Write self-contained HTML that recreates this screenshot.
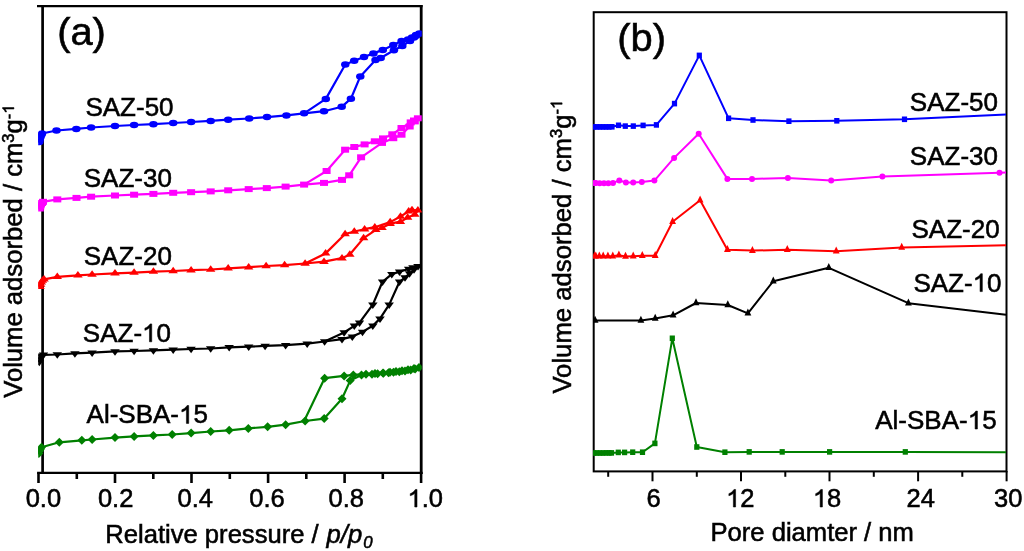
<!DOCTYPE html><html><head><meta charset="utf-8"><style>html,body{margin:0;padding:0;background:#fff;overflow:hidden}svg{display:block;filter:blur(0.3px)} text{stroke:#000;stroke-width:0.55px}.o{fill:none;stroke:none}</style></head><body>
<svg width="1024" height="551" viewBox="0 0 1024 551" font-family="Liberation Sans, sans-serif">
<rect width="1024" height="551" fill="#fff"/>
<defs><clipPath id="ca"><rect x="38.2" y="0" width="383.6" height="480"/></clipPath><clipPath id="cb"><rect x="593" y="0" width="413.6" height="480"/></clipPath></defs>
<g stroke="#000" fill="none">
<path stroke-width="2.3" d="M37,6.05 H422.6"/>
<path stroke-width="2.2" d="M37.1,472.8 H422.6"/>
<path stroke-width="2.7" d="M42.6,4.9 V473.9"/>
<path stroke-width="2.8" d="M421.2,4.9 V473.9"/>
</g>
<g clip-path="url(#ca)">
<g fill="none" stroke="#0000ff" stroke-width="2.2" stroke-linejoin="round">
<polyline points="39.3,142.0 39.8,139.5 40.5,137.0 41.3,135.0 42.0,133.5 56.5,130.5 76.3,128.9 91.1,127.5 115.0,126.0 134.1,125.0 153.4,124.2 173.2,123.0 191.1,122.0 210.7,120.9 228.2,119.7 249.2,118.5 267.0,117.1 286.4,115.4 304.1,113.3 324.0,111.2 341.7,106.8 350.9,98.7 360.3,76.4 375.5,60.1 380.7,58.0 393.9,50.3 402.3,46.1 410.0,40.9 414.0,37.5 416.2,35.7 419.4,33.6"/>
<polyline points="419.4,33.6 416.0,35.0 412.0,37.5 408.0,39.5 401.6,40.9 393.3,45.0 382.8,49.9 373.4,53.4 364.0,57.0 354.2,60.7 345.3,64.5 325.8,98.9 304.1,113.3"/>
</g>
<g fill="#0000ff">
<ellipse cx="39.3" cy="142.0" rx="4.25" ry="3.25"/>
<ellipse cx="39.8" cy="139.5" rx="4.25" ry="3.25"/>
<ellipse cx="40.5" cy="137.0" rx="4.25" ry="3.25"/>
<ellipse cx="41.3" cy="135.0" rx="4.25" ry="3.25"/>
<ellipse cx="42.0" cy="133.5" rx="4.25" ry="3.25"/>
<ellipse cx="56.5" cy="130.5" rx="4.25" ry="3.25"/>
<ellipse cx="76.3" cy="128.9" rx="4.25" ry="3.25"/>
<ellipse cx="91.1" cy="127.5" rx="4.25" ry="3.25"/>
<ellipse cx="115.0" cy="126.0" rx="4.25" ry="3.25"/>
<ellipse cx="134.1" cy="125.0" rx="4.25" ry="3.25"/>
<ellipse cx="153.4" cy="124.2" rx="4.25" ry="3.25"/>
<ellipse cx="173.2" cy="123.0" rx="4.25" ry="3.25"/>
<ellipse cx="191.1" cy="122.0" rx="4.25" ry="3.25"/>
<ellipse cx="210.7" cy="120.9" rx="4.25" ry="3.25"/>
<ellipse cx="228.2" cy="119.7" rx="4.25" ry="3.25"/>
<ellipse cx="249.2" cy="118.5" rx="4.25" ry="3.25"/>
<ellipse cx="267.0" cy="117.1" rx="4.25" ry="3.25"/>
<ellipse cx="286.4" cy="115.4" rx="4.25" ry="3.25"/>
<ellipse cx="304.1" cy="113.3" rx="4.25" ry="3.25"/>
<ellipse cx="324.0" cy="111.2" rx="4.25" ry="3.25"/>
<ellipse cx="341.7" cy="106.8" rx="4.25" ry="3.25"/>
<ellipse cx="350.9" cy="98.7" rx="4.25" ry="3.25"/>
<ellipse cx="360.3" cy="76.4" rx="4.25" ry="3.25"/>
<ellipse cx="375.5" cy="60.1" rx="4.25" ry="3.25"/>
<ellipse cx="380.7" cy="58.0" rx="4.25" ry="3.25"/>
<ellipse cx="393.9" cy="50.3" rx="4.25" ry="3.25"/>
<ellipse cx="402.3" cy="46.1" rx="4.25" ry="3.25"/>
<ellipse cx="410.0" cy="40.9" rx="4.25" ry="3.25"/>
<ellipse cx="414.0" cy="37.5" rx="4.25" ry="3.25"/>
<ellipse cx="416.2" cy="35.7" rx="4.25" ry="3.25"/>
<ellipse cx="419.4" cy="33.6" rx="4.25" ry="3.25"/>
<ellipse cx="416.0" cy="35.0" rx="4.25" ry="3.25"/>
<ellipse cx="412.0" cy="37.5" rx="4.25" ry="3.25"/>
<ellipse cx="408.0" cy="39.5" rx="4.25" ry="3.25"/>
<ellipse cx="401.6" cy="40.9" rx="4.25" ry="3.25"/>
<ellipse cx="393.3" cy="45.0" rx="4.25" ry="3.25"/>
<ellipse cx="382.8" cy="49.9" rx="4.25" ry="3.25"/>
<ellipse cx="373.4" cy="53.4" rx="4.25" ry="3.25"/>
<ellipse cx="364.0" cy="57.0" rx="4.25" ry="3.25"/>
<ellipse cx="354.2" cy="60.7" rx="4.25" ry="3.25"/>
<ellipse cx="345.3" cy="64.5" rx="4.25" ry="3.25"/>
<ellipse cx="325.8" cy="98.9" rx="4.25" ry="3.25"/>
</g>
<g fill="none" stroke="#ff00ff" stroke-width="2.2" stroke-linejoin="round">
<polyline points="39.8,208.5 40.3,206.5 41.0,204.5 42.0,203.0 43.0,201.8 57.3,199.4 76.5,197.9 91.1,196.7 115.0,195.5 134.1,194.7 153.4,193.9 173.2,192.8 191.1,192.2 210.7,191.4 228.2,190.3 248.7,189.1 266.8,188.1 285.6,186.6 304.1,184.6 324.0,182.9 342.0,179.9 349.2,175.3 361.1,157.3 382.0,142.9 393.3,138.2 401.5,134.7 409.7,126.5 414.8,121.4 417.9,118.3"/>
<polyline points="417.9,118.3 414.0,120.5 410.7,122.4 401.5,128.0 392.3,134.3 383.0,138.4 374.8,141.3 364.6,144.4 354.3,147.0 345.1,149.7 326.6,171.0 304.1,184.6"/>
</g>
<g fill="#ff00ff">
<rect x="35.8" y="205.5" width="8" height="6"/>
<rect x="36.3" y="203.5" width="8" height="6"/>
<rect x="37.0" y="201.5" width="8" height="6"/>
<rect x="38.0" y="200.0" width="8" height="6"/>
<rect x="39.0" y="198.8" width="8" height="6"/>
<rect x="53.3" y="196.4" width="8" height="6"/>
<rect x="72.5" y="194.9" width="8" height="6"/>
<rect x="87.1" y="193.7" width="8" height="6"/>
<rect x="111.0" y="192.5" width="8" height="6"/>
<rect x="130.1" y="191.7" width="8" height="6"/>
<rect x="149.4" y="190.9" width="8" height="6"/>
<rect x="169.2" y="189.8" width="8" height="6"/>
<rect x="187.1" y="189.2" width="8" height="6"/>
<rect x="206.7" y="188.4" width="8" height="6"/>
<rect x="224.2" y="187.3" width="8" height="6"/>
<rect x="244.7" y="186.1" width="8" height="6"/>
<rect x="262.8" y="185.1" width="8" height="6"/>
<rect x="281.6" y="183.6" width="8" height="6"/>
<rect x="300.1" y="181.6" width="8" height="6"/>
<rect x="320.0" y="179.9" width="8" height="6"/>
<rect x="338.0" y="176.9" width="8" height="6"/>
<rect x="345.2" y="172.3" width="8" height="6"/>
<rect x="357.1" y="154.3" width="8" height="6"/>
<rect x="378.0" y="139.9" width="8" height="6"/>
<rect x="389.3" y="135.2" width="8" height="6"/>
<rect x="397.5" y="131.7" width="8" height="6"/>
<rect x="405.7" y="123.5" width="8" height="6"/>
<rect x="410.8" y="118.4" width="8" height="6"/>
<rect x="413.9" y="115.3" width="8" height="6"/>
<rect x="410.0" y="117.5" width="8" height="6"/>
<rect x="406.7" y="119.4" width="8" height="6"/>
<rect x="397.5" y="125.0" width="8" height="6"/>
<rect x="388.3" y="131.3" width="8" height="6"/>
<rect x="379.0" y="135.4" width="8" height="6"/>
<rect x="370.8" y="138.3" width="8" height="6"/>
<rect x="360.6" y="141.4" width="8" height="6"/>
<rect x="350.3" y="144.0" width="8" height="6"/>
<rect x="341.1" y="146.7" width="8" height="6"/>
<rect x="322.6" y="168.0" width="8" height="6"/>
</g>
<g fill="none" stroke="#ff0000" stroke-width="2.2" stroke-linejoin="round">
<polyline points="40.0,286.7 40.6,284.5 41.4,282.3 42.5,280.5 44.0,279.4 57.3,276.9 77.9,275.3 92.1,274.5 115.0,273.4 134.1,272.6 153.4,271.6 173.2,271.0 191.1,270.2 210.7,269.5 228.2,268.4 248.7,267.2 266.1,266.0 284.6,265.1 305.1,263.5 324.0,261.7 342.0,258.2 349.8,254.5 363.6,238.1 375.9,229.9 382.0,227.8 390.2,223.7 400.5,221.7 407.7,217.6 414.8,214.5 417.9,210.4"/>
<polyline points="417.9,210.4 412.0,210.0 408.7,211.4 400.5,216.5 390.2,222.1 374.8,227.2 364.6,229.2 354.3,231.5 345.1,234.0 325.6,253.4 305.1,263.5"/>
</g>
<g fill="#ff0000">
<polygon points="40.0,282.4 35.2,288.9 44.8,288.9"/>
<polygon points="40.6,280.2 35.9,286.7 45.4,286.7"/>
<polygon points="41.4,278.0 36.6,284.5 46.1,284.5"/>
<polygon points="42.5,276.2 37.8,282.7 47.2,282.7"/>
<polygon points="44.0,275.1 39.2,281.6 48.8,281.6"/>
<polygon points="57.3,272.6 52.5,279.1 62.0,279.1"/>
<polygon points="77.9,271.0 73.2,277.5 82.7,277.5"/>
<polygon points="92.1,270.2 87.3,276.7 96.8,276.7"/>
<polygon points="115.0,269.1 110.2,275.6 119.8,275.6"/>
<polygon points="134.1,268.3 129.3,274.8 138.8,274.8"/>
<polygon points="153.4,267.3 148.7,273.8 158.2,273.8"/>
<polygon points="173.2,266.7 168.4,273.2 177.9,273.2"/>
<polygon points="191.1,265.9 186.3,272.4 195.8,272.4"/>
<polygon points="210.7,265.2 205.9,271.7 215.4,271.7"/>
<polygon points="228.2,264.1 223.4,270.6 232.9,270.6"/>
<polygon points="248.7,262.9 243.9,269.4 253.4,269.4"/>
<polygon points="266.1,261.7 261.4,268.2 270.9,268.2"/>
<polygon points="284.6,260.8 279.9,267.3 289.4,267.3"/>
<polygon points="305.1,259.2 300.4,265.7 309.9,265.7"/>
<polygon points="324.0,257.4 319.2,263.9 328.8,263.9"/>
<polygon points="342.0,253.9 337.2,260.4 346.8,260.4"/>
<polygon points="349.8,250.2 345.1,256.7 354.6,256.7"/>
<polygon points="363.6,233.8 358.9,240.3 368.4,240.3"/>
<polygon points="375.9,225.6 371.1,232.1 380.6,232.1"/>
<polygon points="382.0,223.5 377.2,230.0 386.8,230.0"/>
<polygon points="390.2,219.4 385.4,225.9 394.9,225.9"/>
<polygon points="400.5,217.4 395.8,223.9 405.2,223.9"/>
<polygon points="407.7,213.3 402.9,219.8 412.4,219.8"/>
<polygon points="414.8,210.2 410.1,216.7 419.6,216.7"/>
<polygon points="417.9,206.1 413.1,212.6 422.6,212.6"/>
<polygon points="412.0,205.7 407.2,212.2 416.8,212.2"/>
<polygon points="408.7,207.1 403.9,213.6 413.4,213.6"/>
<polygon points="400.5,212.2 395.8,218.7 405.2,218.7"/>
<polygon points="390.2,217.8 385.4,224.3 394.9,224.3"/>
<polygon points="374.8,222.9 370.1,229.4 379.6,229.4"/>
<polygon points="364.6,224.9 359.9,231.4 369.4,231.4"/>
<polygon points="354.3,227.2 349.6,233.7 359.1,233.7"/>
<polygon points="345.1,229.7 340.4,236.2 349.9,236.2"/>
<polygon points="325.6,249.1 320.9,255.6 330.4,255.6"/>
</g>
<g fill="none" stroke="#000000" stroke-width="2.2" stroke-linejoin="round">
<polyline points="39.3,362.0 39.8,359.5 40.5,357.3 41.7,355.7 43.5,354.8 57.3,354.5 74.9,353.4 92.1,352.6 115.0,351.4 134.1,351.0 153.4,350.4 173.2,349.6 191.1,349.0 210.7,348.5 229.2,347.3 248.7,346.7 265.1,345.9 285.6,345.2 307.2,343.6 324.6,341.5 342.0,339.1 352.3,336.6 362.5,331.9 372.8,325.8 380.0,318.6 389.2,304.6 399.5,281.8 405.0,277.5 409.5,273.5 414.0,269.5 418.0,266.3"/>
<polyline points="418.0,266.3 413.0,267.5 408.7,269.0 399.5,271.6 391.8,274.2 382.5,281.8 372.8,304.6 359.5,322.7 354.3,325.8 344.1,332.5 324.6,341.5"/>
</g>
<g fill="#000000">
<polygon points="39.3,366.3 34.5,359.8 44.0,359.8"/>
<polygon points="39.8,363.8 35.0,357.3 44.5,357.3"/>
<polygon points="40.5,361.6 35.8,355.1 45.2,355.1"/>
<polygon points="41.7,360.0 37.0,353.5 46.5,353.5"/>
<polygon points="43.5,359.1 38.8,352.6 48.2,352.6"/>
<polygon points="57.3,358.8 52.5,352.3 62.0,352.3"/>
<polygon points="74.9,357.7 70.2,351.2 79.7,351.2"/>
<polygon points="92.1,356.9 87.3,350.4 96.8,350.4"/>
<polygon points="115.0,355.7 110.2,349.2 119.8,349.2"/>
<polygon points="134.1,355.3 129.3,348.8 138.8,348.8"/>
<polygon points="153.4,354.7 148.7,348.2 158.2,348.2"/>
<polygon points="173.2,353.9 168.4,347.4 177.9,347.4"/>
<polygon points="191.1,353.3 186.3,346.8 195.8,346.8"/>
<polygon points="210.7,352.8 205.9,346.3 215.4,346.3"/>
<polygon points="229.2,351.6 224.4,345.1 233.9,345.1"/>
<polygon points="248.7,351.0 243.9,344.5 253.4,344.5"/>
<polygon points="265.1,350.2 260.4,343.7 269.9,343.7"/>
<polygon points="285.6,349.5 280.9,343.0 290.4,343.0"/>
<polygon points="307.2,347.9 302.4,341.4 311.9,341.4"/>
<polygon points="324.6,345.8 319.9,339.3 329.4,339.3"/>
<polygon points="342.0,343.4 337.2,336.9 346.8,336.9"/>
<polygon points="352.3,340.9 347.6,334.4 357.1,334.4"/>
<polygon points="362.5,336.2 357.8,329.7 367.2,329.7"/>
<polygon points="372.8,330.1 368.1,323.6 377.6,323.6"/>
<polygon points="380.0,322.9 375.2,316.4 384.8,316.4"/>
<polygon points="389.2,308.9 384.4,302.4 393.9,302.4"/>
<polygon points="399.5,286.1 394.8,279.6 404.2,279.6"/>
<polygon points="405.0,281.8 400.2,275.3 409.8,275.3"/>
<polygon points="409.5,277.8 404.8,271.3 414.2,271.3"/>
<polygon points="414.0,273.8 409.2,267.3 418.8,267.3"/>
<polygon points="418.0,270.6 413.2,264.1 422.8,264.1"/>
<polygon points="413.0,271.8 408.2,265.3 417.8,265.3"/>
<polygon points="408.7,273.3 403.9,266.8 413.4,266.8"/>
<polygon points="399.5,275.9 394.8,269.4 404.2,269.4"/>
<polygon points="391.8,278.5 387.1,272.0 396.6,272.0"/>
<polygon points="382.5,286.1 377.8,279.6 387.2,279.6"/>
<polygon points="372.8,308.9 368.1,302.4 377.6,302.4"/>
<polygon points="359.5,327.0 354.8,320.5 364.2,320.5"/>
<polygon points="354.3,330.1 349.6,323.6 359.1,323.6"/>
<polygon points="344.1,336.8 339.4,330.3 348.9,330.3"/>
</g>
<g fill="none" stroke="#008000" stroke-width="2.2" stroke-linejoin="round">
<polyline points="38.8,453.5 39.5,451.0 40.5,449.0 41.5,447.3 59.3,442.3 81.8,440.3 92.1,439.5 115.0,437.6 134.1,436.4 153.4,435.4 172.2,434.5 191.1,433.1 210.7,431.5 229.2,430.3 248.3,428.4 267.6,426.8 285.6,424.7 305.1,421.0 324.2,418.6 342.0,398.7 350.2,380.6 361.5,374.9 372.0,374.3 377.6,373.8 383.4,373.3 388.5,372.8 393.5,372.3 399.3,371.7 405.0,370.9 410.7,370.0 415.1,369.0 419.0,367.6"/>
<polyline points="419.0,367.6 414.0,368.6 408.0,369.8 402.0,370.8 396.0,371.6 390.0,372.3 383.0,373.0 375.0,373.6 366.0,374.2 353.3,374.9 344.1,375.9 324.6,378.2 305.1,419.0"/>
</g>
<g fill="#008000">
<polygon points="38.8,449.0 43.3,453.5 38.8,458.0 34.3,453.5"/>
<polygon points="39.5,446.5 44.0,451.0 39.5,455.5 35.0,451.0"/>
<polygon points="40.5,444.5 45.0,449.0 40.5,453.5 36.0,449.0"/>
<polygon points="41.5,442.8 46.0,447.3 41.5,451.8 37.0,447.3"/>
<polygon points="59.3,437.8 63.8,442.3 59.3,446.8 54.8,442.3"/>
<polygon points="81.8,435.8 86.3,440.3 81.8,444.8 77.3,440.3"/>
<polygon points="92.1,435.0 96.6,439.5 92.1,444.0 87.6,439.5"/>
<polygon points="115.0,433.1 119.5,437.6 115.0,442.1 110.5,437.6"/>
<polygon points="134.1,431.9 138.6,436.4 134.1,440.9 129.6,436.4"/>
<polygon points="153.4,430.9 157.9,435.4 153.4,439.9 148.9,435.4"/>
<polygon points="172.2,430.0 176.7,434.5 172.2,439.0 167.7,434.5"/>
<polygon points="191.1,428.6 195.6,433.1 191.1,437.6 186.6,433.1"/>
<polygon points="210.7,427.0 215.2,431.5 210.7,436.0 206.2,431.5"/>
<polygon points="229.2,425.8 233.7,430.3 229.2,434.8 224.7,430.3"/>
<polygon points="248.3,423.9 252.8,428.4 248.3,432.9 243.8,428.4"/>
<polygon points="267.6,422.3 272.1,426.8 267.6,431.3 263.1,426.8"/>
<polygon points="285.6,420.2 290.1,424.7 285.6,429.2 281.1,424.7"/>
<polygon points="305.1,416.5 309.6,421.0 305.1,425.5 300.6,421.0"/>
<polygon points="324.2,414.1 328.7,418.6 324.2,423.1 319.7,418.6"/>
<polygon points="342.0,394.2 346.5,398.7 342.0,403.2 337.5,398.7"/>
<polygon points="350.2,376.1 354.7,380.6 350.2,385.1 345.7,380.6"/>
<polygon points="361.5,370.4 366.0,374.9 361.5,379.4 357.0,374.9"/>
<polygon points="372.0,369.8 376.5,374.3 372.0,378.8 367.5,374.3"/>
<polygon points="377.6,369.3 382.1,373.8 377.6,378.3 373.1,373.8"/>
<polygon points="383.4,368.8 387.9,373.3 383.4,377.8 378.9,373.3"/>
<polygon points="388.5,368.3 393.0,372.8 388.5,377.3 384.0,372.8"/>
<polygon points="393.5,367.8 398.0,372.3 393.5,376.8 389.0,372.3"/>
<polygon points="399.3,367.2 403.8,371.7 399.3,376.2 394.8,371.7"/>
<polygon points="405.0,366.4 409.5,370.9 405.0,375.4 400.5,370.9"/>
<polygon points="410.7,365.5 415.2,370.0 410.7,374.5 406.2,370.0"/>
<polygon points="415.1,364.5 419.6,369.0 415.1,373.5 410.6,369.0"/>
<polygon points="419.0,363.1 423.5,367.6 419.0,372.1 414.5,367.6"/>
<polygon points="414.0,364.1 418.5,368.6 414.0,373.1 409.5,368.6"/>
<polygon points="408.0,365.3 412.5,369.8 408.0,374.3 403.5,369.8"/>
<polygon points="402.0,366.3 406.5,370.8 402.0,375.3 397.5,370.8"/>
<polygon points="396.0,367.1 400.5,371.6 396.0,376.1 391.5,371.6"/>
<polygon points="390.0,367.8 394.5,372.3 390.0,376.8 385.5,372.3"/>
<polygon points="383.0,368.5 387.5,373.0 383.0,377.5 378.5,373.0"/>
<polygon points="375.0,369.1 379.5,373.6 375.0,378.1 370.5,373.6"/>
<polygon points="366.0,369.7 370.5,374.2 366.0,378.7 361.5,374.2"/>
<polygon points="353.3,370.4 357.8,374.9 353.3,379.4 348.8,374.9"/>
<polygon points="344.1,371.4 348.6,375.9 344.1,380.4 339.6,375.9"/>
<polygon points="324.6,373.7 329.1,378.2 324.6,382.7 320.1,378.2"/>
</g>
</g>
<g stroke="#000" stroke-width="2.6">
<line x1="38.5" y1="472.5" x2="38.5" y2="483"/>
<line x1="76.8" y1="472.5" x2="76.8" y2="479"/>
<line x1="115.0" y1="472.5" x2="115.0" y2="483"/>
<line x1="153.3" y1="472.5" x2="153.3" y2="479"/>
<line x1="191.5" y1="472.5" x2="191.5" y2="483"/>
<line x1="229.8" y1="472.5" x2="229.8" y2="479"/>
<line x1="268.1" y1="472.5" x2="268.1" y2="483"/>
<line x1="306.3" y1="472.5" x2="306.3" y2="479"/>
<line x1="344.6" y1="472.5" x2="344.6" y2="483"/>
<line x1="382.8" y1="472.5" x2="382.8" y2="479"/>
<line x1="421.1" y1="472.5" x2="421.1" y2="483"/>
</g>
<g font-size="25.5" fill="#000">
<text x="25.7" y="507">0.0</text>
<text x="97.9" y="507">0.2</text>
<text x="177.5" y="507">0.4</text>
<text x="249.3" y="507">0.6</text>
<text x="328.5" y="507">0.8</text>
<text x="407.5" y="507"><tspan class="o" id="one1">1</tspan>.0</text>
</g>
<text x="105.3" y="542.6" font-size="25.6">Relative pressure / <tspan font-style="italic" dx="0.8">p/p</tspan><tspan font-style="italic" font-size="16.8" dy="5.8" dx="1">0</tspan></text>
<text transform="translate(22.3,397.8) rotate(-90)" font-size="25.65">Volume adsorbed / cm<tspan font-size="16.5" dy="-8.4">3</tspan><tspan dy="8.4">g</tspan><tspan font-size="16.5" dy="-8.4">-<tspan class="o" id="one8">1</tspan></tspan></text>
<text transform="translate(57.13,45.10) scale(1.05,1)" font-size="38" >(a)</text>
<g font-size="25.5" fill="#000">
<text transform="translate(85.42,115.50) scale(1.0,1)" font-size="26" >SAZ-50</text>
<text transform="translate(83.72,187.40) scale(1.0,1)" font-size="26" >SAZ-30</text>
<text transform="translate(83.72,264.60) scale(1.0,1)" font-size="26" >SAZ-20</text>
<text transform="translate(82.82,341.80) scale(1.0,1)" font-size="26" >SAZ-<tspan class="o" id="one4">1</tspan>0</text>
<text transform="translate(86.55,423.40) scale(1.0,1)" font-size="26" >Al-SBA-<tspan class="o" id="one6">1</tspan>5</text>
</g>
<g stroke="#000" stroke-width="2" fill="none">
<rect x="593.7" y="12.2" width="412.8" height="459.2"/>
</g>
<g clip-path="url(#cb)">
<polyline points="594.0,126.9 597.0,126.9 600.0,126.9 603.0,126.9 606.0,126.9 609.0,126.9 612.0,126.8 618.5,125.3 625.3,126.1 633.3,126.1 643.1,125.4 656.4,124.9 674.5,103.6 699.3,55.4 728.6,118.3 753.0,120.0 788.9,121.2 836.8,120.8 904.5,119.3 1006.0,114.4" fill="none" stroke="#0000ff" stroke-width="2" stroke-linejoin="round"/>
<g fill="#0000ff">
<rect x="591.4" y="124.1" width="5.2" height="5.6"/>
<rect x="594.4" y="124.1" width="5.2" height="5.6"/>
<rect x="597.4" y="124.1" width="5.2" height="5.6"/>
<rect x="600.4" y="124.1" width="5.2" height="5.6"/>
<rect x="603.4" y="124.1" width="5.2" height="5.6"/>
<rect x="606.4" y="124.1" width="5.2" height="5.6"/>
<rect x="609.4" y="124.0" width="5.2" height="5.6"/>
<rect x="615.9" y="122.5" width="5.2" height="5.6"/>
<rect x="622.7" y="123.3" width="5.2" height="5.6"/>
<rect x="630.7" y="123.3" width="5.2" height="5.6"/>
<rect x="640.5" y="122.6" width="5.2" height="5.6"/>
<rect x="653.8" y="122.1" width="5.2" height="5.6"/>
<rect x="671.9" y="100.8" width="5.2" height="5.6"/>
<rect x="696.7" y="52.6" width="5.2" height="5.6"/>
<rect x="726.0" y="115.5" width="5.2" height="5.6"/>
<rect x="750.4" y="117.2" width="5.2" height="5.6"/>
<rect x="786.3" y="118.4" width="5.2" height="5.6"/>
<rect x="834.2" y="118.0" width="5.2" height="5.6"/>
<rect x="901.9" y="116.5" width="5.2" height="5.6"/>
</g>
<polyline points="594.5,183.0 595.8,183.0 599.7,183.2 604.0,183.3 608.3,183.3 613.0,182.9 619.3,180.4 625.9,182.5 633.2,182.6 641.8,182.1 654.4,180.6 674.1,157.9 698.7,133.7 727.4,178.9 752.0,178.9 787.9,178.0 831.2,180.4 882.4,176.5 999.5,172.7 1006.0,172.5" fill="none" stroke="#ff00ff" stroke-width="2" stroke-linejoin="round"/>
<g fill="#ff00ff">
<ellipse cx="594.5" cy="183.0" rx="3.0" ry="3.0"/>
<ellipse cx="595.8" cy="183.0" rx="3.0" ry="3.0"/>
<ellipse cx="599.7" cy="183.2" rx="3.0" ry="3.0"/>
<ellipse cx="604.0" cy="183.3" rx="3.0" ry="3.0"/>
<ellipse cx="608.3" cy="183.3" rx="3.0" ry="3.0"/>
<ellipse cx="613.0" cy="182.9" rx="3.0" ry="3.0"/>
<ellipse cx="619.3" cy="180.4" rx="3.0" ry="3.0"/>
<ellipse cx="625.9" cy="182.5" rx="3.0" ry="3.0"/>
<ellipse cx="633.2" cy="182.6" rx="3.0" ry="3.0"/>
<ellipse cx="641.8" cy="182.1" rx="3.0" ry="3.0"/>
<ellipse cx="654.4" cy="180.6" rx="3.0" ry="3.0"/>
<ellipse cx="674.1" cy="157.9" rx="3.0" ry="3.0"/>
<ellipse cx="698.7" cy="133.7" rx="3.0" ry="3.0"/>
<ellipse cx="727.4" cy="178.9" rx="3.0" ry="3.0"/>
<ellipse cx="752.0" cy="178.9" rx="3.0" ry="3.0"/>
<ellipse cx="787.9" cy="178.0" rx="3.0" ry="3.0"/>
<ellipse cx="831.2" cy="180.4" rx="3.0" ry="3.0"/>
<ellipse cx="882.4" cy="176.5" rx="3.0" ry="3.0"/>
<ellipse cx="999.5" cy="172.7" rx="3.0" ry="3.0"/>
</g>
<polyline points="594.5,256.3 595.8,256.3 599.3,256.3 603.2,256.3 607.9,256.3 612.8,256.2 618.9,255.2 625.5,256.4 633.2,256.2 642.3,255.8 655.2,255.7 672.6,221.7 700.1,200.2 727.4,249.8 752.4,250.6 787.3,249.8 836.2,251.3 901.7,247.4 1006.0,245.3" fill="none" stroke="#ff0000" stroke-width="2" stroke-linejoin="round"/>
<g fill="#ff0000">
<polygon points="594.5,251.6 591.1,258.6 597.9,258.6"/>
<polygon points="595.8,251.6 592.4,258.6 599.2,258.6"/>
<polygon points="599.3,251.6 595.9,258.6 602.7,258.6"/>
<polygon points="603.2,251.6 599.8,258.6 606.6,258.6"/>
<polygon points="607.9,251.6 604.5,258.6 611.3,258.6"/>
<polygon points="612.8,251.5 609.4,258.5 616.2,258.5"/>
<polygon points="618.9,250.5 615.5,257.5 622.3,257.5"/>
<polygon points="625.5,251.7 622.1,258.7 628.9,258.7"/>
<polygon points="633.2,251.5 629.8,258.5 636.6,258.5"/>
<polygon points="642.3,251.1 638.9,258.1 645.7,258.1"/>
<polygon points="655.2,251.0 651.8,258.0 658.6,258.0"/>
<polygon points="672.6,217.0 669.2,224.0 676.0,224.0"/>
<polygon points="700.1,195.5 696.7,202.5 703.5,202.5"/>
<polygon points="727.4,245.1 724.0,252.1 730.8,252.1"/>
<polygon points="752.4,245.9 749.0,252.9 755.8,252.9"/>
<polygon points="787.3,245.1 783.9,252.1 790.7,252.1"/>
<polygon points="836.2,246.6 832.8,253.6 839.6,253.6"/>
<polygon points="901.7,242.7 898.3,249.7 905.1,249.7"/>
</g>
<polyline points="595.1,320.4 640.9,320.4 655.2,318.4 673.1,315.3 696.0,303.0 727.8,305.0 747.9,313.3 773.3,281.2 828.8,267.8 908.4,303.2 1006.0,314.7" fill="none" stroke="#000000" stroke-width="2" stroke-linejoin="round"/>
<g fill="#000000">
<polygon points="595.1,315.7 591.7,322.7 598.5,322.7"/>
<polygon points="640.9,315.7 637.5,322.7 644.3,322.7"/>
<polygon points="655.2,313.7 651.8,320.7 658.6,320.7"/>
<polygon points="673.1,310.6 669.7,317.6 676.5,317.6"/>
<polygon points="696.0,298.3 692.6,305.3 699.4,305.3"/>
<polygon points="727.8,300.3 724.4,307.3 731.2,307.3"/>
<polygon points="747.9,308.6 744.5,315.6 751.3,315.6"/>
<polygon points="773.3,276.5 769.9,283.5 776.7,283.5"/>
<polygon points="828.8,263.1 825.4,270.1 832.2,270.1"/>
<polygon points="908.4,298.5 905.0,305.5 911.8,305.5"/>
</g>
<polyline points="594.0,453.0 597.0,453.0 600.0,453.0 603.0,453.0 606.0,452.9 609.0,452.9 611.5,452.9 618.3,452.4 624.6,452.4 632.7,452.2 642.5,452.2 654.9,443.4 672.3,338.3 696.8,447.0 724.9,452.2 749.2,451.9 782.2,451.9 829.6,451.9 905.3,451.9 1006.0,452.2" fill="none" stroke="#008000" stroke-width="2" stroke-linejoin="round"/>
<g fill="#008000">
<rect x="591.4" y="450.2" width="5.2" height="5.6"/>
<rect x="594.4" y="450.2" width="5.2" height="5.6"/>
<rect x="597.4" y="450.2" width="5.2" height="5.6"/>
<rect x="600.4" y="450.2" width="5.2" height="5.6"/>
<rect x="603.4" y="450.1" width="5.2" height="5.6"/>
<rect x="606.4" y="450.1" width="5.2" height="5.6"/>
<rect x="608.9" y="450.1" width="5.2" height="5.6"/>
<rect x="615.7" y="449.6" width="5.2" height="5.6"/>
<rect x="622.0" y="449.6" width="5.2" height="5.6"/>
<rect x="630.1" y="449.4" width="5.2" height="5.6"/>
<rect x="639.9" y="449.4" width="5.2" height="5.6"/>
<rect x="652.3" y="440.6" width="5.2" height="5.6"/>
<rect x="669.7" y="335.5" width="5.2" height="5.6"/>
<rect x="694.2" y="444.2" width="5.2" height="5.6"/>
<rect x="722.3" y="449.4" width="5.2" height="5.6"/>
<rect x="746.6" y="449.1" width="5.2" height="5.6"/>
<rect x="779.6" y="449.1" width="5.2" height="5.6"/>
<rect x="827.0" y="449.1" width="5.2" height="5.6"/>
<rect x="902.7" y="449.1" width="5.2" height="5.6"/>
</g>
</g>
<g stroke="#000" stroke-width="2">
<line x1="608.2" y1="471" x2="608.2" y2="476.8"/>
<line x1="652.5" y1="471" x2="652.5" y2="481.3"/>
<line x1="696.8" y1="471" x2="696.8" y2="476.8"/>
<line x1="741.0" y1="471" x2="741.0" y2="481.3"/>
<line x1="785.3" y1="471" x2="785.3" y2="476.8"/>
<line x1="829.5" y1="471" x2="829.5" y2="481.3"/>
<line x1="873.8" y1="471" x2="873.8" y2="476.8"/>
<line x1="918.1" y1="471" x2="918.1" y2="481.3"/>
<line x1="962.3" y1="471" x2="962.3" y2="476.8"/>
<line x1="1006.6" y1="471" x2="1006.6" y2="481.3"/>
</g>
<g font-size="25.5" fill="#000">
<text x="646.6" y="507">6</text>
<text x="726.1" y="507"><tspan class="o" id="one2">1</tspan>2</text>
<text x="812.9" y="507"><tspan class="o" id="one3">1</tspan>8</text>
<text x="906.5" y="507">24</text>
<text x="994.0" y="507">30</text>
</g>
<text x="710.5" y="540.8" font-size="25.6">Pore diamter / nm</text>
<text transform="translate(571.1,393.6) rotate(-90)" font-size="25.7">Volume adsorbed / cm<tspan font-size="16.5" dy="-9">3</tspan><tspan dy="9">g</tspan><tspan font-size="16.5" dy="-9">-<tspan class="o" id="one9">1</tspan></tspan></text>
<text transform="translate(617.33,50.60) scale(1.05,1)" font-size="38" >(b)</text>
<g fill="#000">
<text transform="translate(909.82,110.60) scale(1.0,1)" font-size="26" >SAZ-50</text>
<text transform="translate(909.82,165.30) scale(1.0,1)" font-size="26" >SAZ-30</text>
<text transform="translate(911.52,237.80) scale(1.0,1)" font-size="26" >SAZ-20</text>
<text transform="translate(913.42,291.60) scale(1.0,1)" font-size="26" >SAZ-<tspan class="o" id="one5">1</tspan>0</text>
<text transform="translate(875.25,429.00) scale(1.0,1)" font-size="26" >Al-SBA-<tspan class="o" id="one7">1</tspan>5</text>
</g>
<path d="M417.00,507.00 L414.76,507.00 L414.76,493.27 L413.97,493.96 L412.73,494.73 L411.48,495.33 L410.28,495.72 L410.28,493.63 L411.73,492.97 L413.10,492.07 L414.22,491.04 L414.97,490.10 L415.39,489.46 L417.00,489.46 Z" fill="#000" stroke="#000" stroke-width="0.55"/>
<path transform="translate(22.3,397.8) rotate(-90)" d="M290.23,-8.40 L288.78,-8.40 L288.78,-17.28 L288.27,-16.84 L287.46,-16.34 L286.66,-15.95 L285.87,-15.70 L285.87,-17.05 L286.82,-17.48 L287.70,-18.06 L288.43,-18.73 L288.91,-19.33 L289.19,-19.75 L290.23,-19.75 Z" fill="#000" stroke="#000" stroke-width="0.55"/>
<path transform="translate(82.82,341.80) scale(1.0,1)" d="M68.92,0.00 L66.64,0.00 L66.64,-14.00 L65.84,-13.30 L64.57,-12.51 L63.30,-11.90 L62.07,-11.51 L62.07,-13.63 L63.55,-14.30 L64.95,-15.23 L66.09,-16.28 L66.85,-17.23 L67.28,-17.89 L68.92,-17.89 Z" fill="#000" stroke="#000" stroke-width="0.55"/>
<path transform="translate(86.55,423.40) scale(1.0,1)" d="M102.16,0.00 L99.87,0.00 L99.87,-14.00 L99.07,-13.30 L97.80,-12.51 L96.53,-11.90 L95.30,-11.51 L95.30,-13.63 L96.79,-14.30 L98.18,-15.23 L99.32,-16.28 L100.09,-17.23 L100.52,-17.89 L102.16,-17.89 Z" fill="#000" stroke="#000" stroke-width="0.55"/>
<path d="M735.60,507.00 L733.36,507.00 L733.36,493.27 L732.57,493.96 L731.33,494.73 L730.08,495.33 L728.88,495.72 L728.88,493.63 L730.33,492.97 L731.70,492.07 L732.82,491.04 L733.57,490.10 L733.99,489.46 L735.60,489.46 Z" fill="#000" stroke="#000" stroke-width="0.55"/>
<path d="M822.40,507.00 L820.16,507.00 L820.16,493.27 L819.37,493.96 L818.13,494.73 L816.88,495.33 L815.68,495.72 L815.68,493.63 L817.13,492.97 L818.50,492.07 L819.62,491.04 L820.37,490.10 L820.79,489.46 L822.40,489.46 Z" fill="#000" stroke="#000" stroke-width="0.55"/>
<path transform="translate(571.1,393.6) rotate(-90)" d="M290.73,-9.00 L289.28,-9.00 L289.28,-17.88 L288.77,-17.44 L287.96,-16.94 L287.16,-16.55 L286.37,-16.30 L286.37,-17.65 L287.32,-18.08 L288.20,-18.66 L288.93,-19.33 L289.41,-19.93 L289.69,-20.35 L290.73,-20.35 Z" fill="#000" stroke="#000" stroke-width="0.55"/>
<path transform="translate(913.42,291.60) scale(1.0,1)" d="M68.92,0.00 L66.64,0.00 L66.64,-14.00 L65.84,-13.30 L64.57,-12.51 L63.30,-11.90 L62.07,-11.51 L62.07,-13.63 L63.55,-14.30 L64.95,-15.23 L66.09,-16.28 L66.85,-17.23 L67.28,-17.89 L68.92,-17.89 Z" fill="#000" stroke="#000" stroke-width="0.55"/>
<path transform="translate(875.25,429.00) scale(1.0,1)" d="M102.16,0.00 L99.87,0.00 L99.87,-14.00 L99.07,-13.30 L97.80,-12.51 L96.53,-11.90 L95.30,-11.51 L95.30,-13.63 L96.79,-14.30 L98.18,-15.23 L99.32,-16.28 L100.09,-17.23 L100.52,-17.89 L102.16,-17.89 Z" fill="#000" stroke="#000" stroke-width="0.55"/>
</svg></body></html>
